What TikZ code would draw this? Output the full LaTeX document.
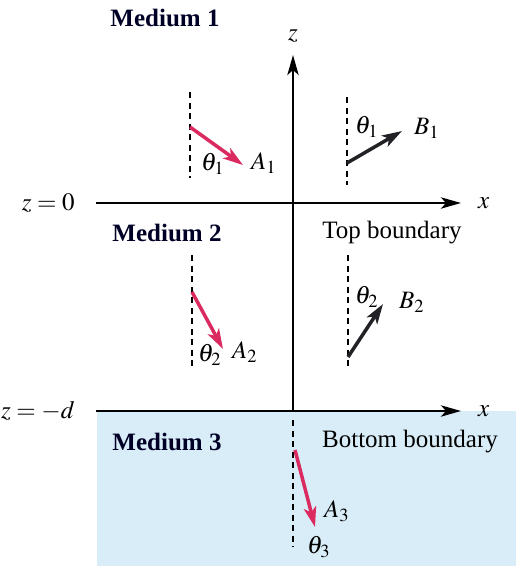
\documentclass[tikz,border=0pt]{standalone}
\usepackage{mathptmx}
\usepackage{fontspec}
\setmainfont{Liberation Serif}
\usetikzlibrary{positioning, arrows.meta}
\definecolor{wavered}{HTML}{DA2A60}
\definecolor{waveblack}{HTML}{222226}
\definecolor{mediumblue}{HTML}{D8EDF8}

\begin{document}
\begin{tikzpicture}[
  x=0.4pt, y=-0.4pt,
  font=\normalsize,
  axis/.style={
    draw=black,
    line width=1pt,
    -{Stealth[length=8pt, width=4.5pt, inset=2pt]}
  },
  normalline/.style={
    draw=black,
    line width=0.8pt,
    dash pattern=on 2.4pt off 1.8pt
  },
  incwave/.style={
    draw=wavered,
    line width=1.4pt,
    -{Stealth[length=8pt, width=5pt, inset=2pt]}
  },
  refwave/.style={
    draw=waveblack,
    line width=1.4pt,
    -{Stealth[length=8pt, width=5pt, inset=2pt]}
  },
  medlabel/.style={font=\bfseries, text=black!85!blue},
  wavelabel/.style={inner sep=0.5pt}
]
  \useasboundingbox (0,0) rectangle (523,574);

  % --- Medium 3 region ---
  \fill[mediumblue] (97,411) rectangle (516,566);

  % --- Axes ---
  \coordinate (zbot) at (293,411);
  \coordinate (ztop) at (293,55);
  \coordinate (x0l)  at (96,203);
  \coordinate (x0r)  at (461,203);
  \coordinate (xdl)  at (96,411);
  \coordinate (xdr)  at (461,411);
  \draw[axis] (zbot) -- (ztop) node[above=1pt] (zlab) {$z$};
  \draw[axis] (x0l) -- (x0r) node[right=3pt] (xlab0) {$x$};
  \draw[axis] (xdl) -- (xdr) node[right=3pt] (xlabd) {$x$};
  \node[left=5pt of x0l] (zzero) {$z = 0$};
  \node[left=5pt of xdl] (zmind) {$z = -d$};

  % --- Labels of media and boundaries ---
  \node[medlabel] (med1) at (165,18)  {Medium 1};
  \node[medlabel] (med2) at (167,233) {Medium 2};
  \node[medlabel] (med3) at (167,442) {Medium 3};
  \node (topb) at (392,233) {Top boundary};
  \node (botb) at (410,442) {Bottom boundary};

  % --- Normals ---
  \foreach \nx/\ya/\yb in {190/92/178, 347/97/185, 192/255/370, 348/255/370, 293/420/547}
    \draw[normalline] (\nx,\ya) -- (\nx,\yb);

  % --- Waves in medium 1 ---
  \coordinate (a1s) at (190,127);
  \coordinate (a1e) at (243,165);
  \coordinate (b1s) at (347,163);
  \coordinate (b1e) at (402,131);
  \draw[incwave] (a1s) -- (a1e);
  \draw[refwave] (b1s) -- (b1e);
  \node[wavelabel] (a1)  at (264,163) {$A_1$};
  \node[wavelabel] (t1a) at (213,164) {$\theta_1$};
  \node[wavelabel] (b1)  at (427,128) {$B_1$};
  \node[wavelabel] (t1b) at (367,127) {$\theta_1$};

  % --- Waves in medium 2 ---
  \coordinate (a2s) at (192,292);
  \coordinate (a2e) at (223,349);
  \coordinate (b2s) at (348,357);
  \coordinate (b2e) at (383,304);
  \draw[incwave] (a2s) -- (a2e);
  \draw[refwave] (b2s) -- (b2e);
  \node[wavelabel] (a2)  at (245,352) {$A_2$};
  \node[wavelabel] (t2a) at (210,355) {$\theta_2$};
  \node[wavelabel] (b2)  at (412,302) {$B_2$};
  \node[wavelabel] (t2b) at (367,297) {$\theta_2$};

  % --- Wave in medium 3 ---
  \coordinate (a3s) at (295,450);
  \coordinate (a3e) at (315,527);
  \draw[incwave] (a3s) -- (a3e);
  \node[wavelabel] (a3) at (337,511) {$A_3$};
  \node[wavelabel] (t3) at (319,547) {$\theta_3$};

\end{tikzpicture}
\end{document}
